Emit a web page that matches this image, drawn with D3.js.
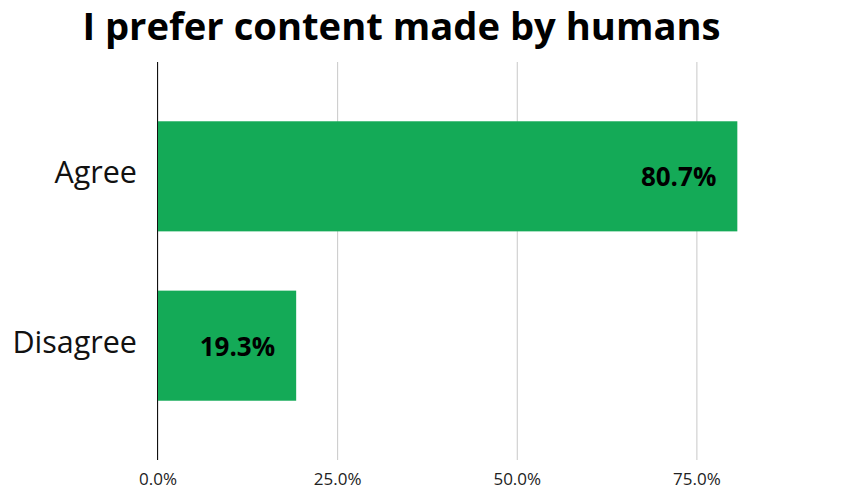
<!DOCTYPE html>
<html>
<head>
<meta charset="utf-8">
<script src="https://cdn.jsdelivr.net/npm/d3@7"></script>
<style>
  html, body { margin: 0; padding: 0; background: #fff; }
  svg { display: block; font-family: "Open Sans", sans-serif; }
</style>
</head>
<body>
<svg id="chart" width="863" height="488"></svg>
<script>
// Survey responses
const categories = ["Agree", "Disagree"];
const shares = [0.807, 0.193];
const valueLabels = ["80.7%", "19.3%"];
const tickValues = [0, 0.25, 0.5, 0.75];
const tickLabels = ["0.0%", "25.0%", "50.0%", "75.0%"];
const title = "I prefer content made by humans";

const svg = d3.select("#chart");
const plot = { left: 157.5, top: 62, bottom: 460 };

const x = d3.scaleLinear().domain([0, 1]).range([plot.left, plot.left + 718.5]);
const y = d3.scaleBand().domain(categories).range([plot.top, plot.bottom])
  .paddingInner(0.35).paddingOuter(0.35);

// title
svg.append("text")
  .attr("x", 401.5).attr("y", 39.5)
  .attr("text-anchor", "middle")
  .attr("font-size", 38.2).attr("font-weight", 700)
  .attr("fill", "#000")
  .text(title);

// vertical gridlines with percent labels below
const xAxis = d3.axisBottom(x)
  .tickValues(tickValues)
  .tickFormat((d, i) => tickLabels[i])
  .tickSize(-(plot.bottom - plot.top));

const gx = svg.append("g")
  .attr("transform", `translate(0,${plot.bottom})`)
  .call(xAxis);
gx.select(".domain").remove();
gx.selectAll(".tick line").attr("stroke", "#c8c8c8").attr("stroke-width", 1);
gx.selectAll(".tick text")
  .attr("font-size", 17).attr("fill", "#222")
  .attr("font-family", "Open Sans, sans-serif")
  .attr("y", 24.5).attr("dy", null);

// bars
svg.append("g").selectAll("rect")
  .data(categories)
  .join("rect")
  .attr("x", x(0))
  .attr("y", d => y(d))
  .attr("width", (d, i) => x(shares[i]) - x(0))
  .attr("height", y.bandwidth())
  .attr("fill", "#14aa57");

// zero baseline
svg.append("line")
  .attr("x1", x(0)).attr("x2", x(0))
  .attr("y1", plot.top).attr("y2", plot.bottom)
  .attr("stroke", "#111").attr("stroke-width", 1);

// category labels
svg.append("g").selectAll("text")
  .data(categories)
  .join("text")
  .attr("x", 137)
  .attr("y", d => y(d) + y.bandwidth() / 2 + 7)
  .attr("text-anchor", "end")
  .attr("font-size", 30.5)
  .attr("fill", "#111")
  .text(d => d);

// value labels inside the bars
svg.append("g").selectAll("text")
  .data(categories)
  .join("text")
  .attr("x", (d, i) => x(shares[i]) - 21)
  .attr("y", d => y(d) + y.bandwidth() / 2 + 10)
  .attr("text-anchor", "end")
  .attr("font-size", 26)
  .attr("font-weight", 700)
  .attr("fill", "#000")
  .text((d, i) => valueLabels[i]);
</script>
</body>
</html>
